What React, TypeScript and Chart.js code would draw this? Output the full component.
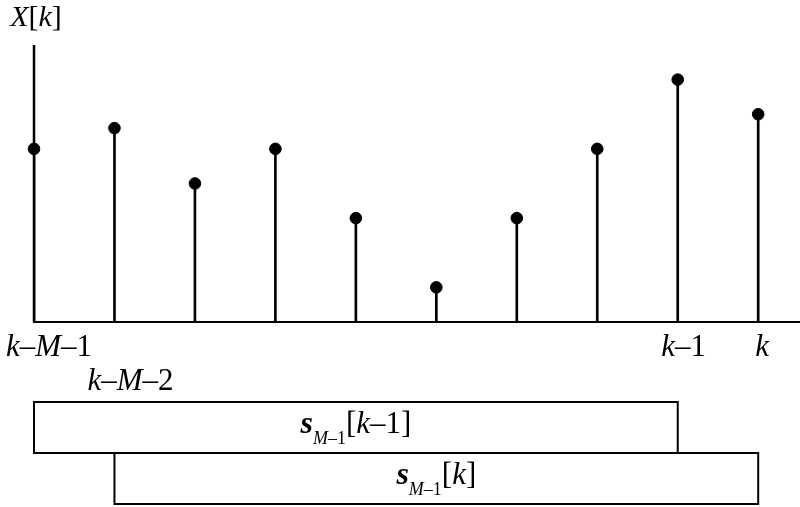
import React, { useEffect, useRef } from 'react';
import { Chart, registerables } from 'chart.js';

Chart.register(...registerables);

// ---- data ----
const sampleIndex = [0, 1, 2, 3, 4, 5, 6, 7, 8, 9];
const sampleValue = [6.25, 7, 5, 6.25, 3.75, 1.25, 3.75, 6.25, 8.75, 7.5];
const axisTop = 10;
const xMax = 9.435;
const yLabel = 'X[k]';
const tickIndex = [0, 1, 8, 9];
const tickLabels = ['k–M–1', 'k–M–2', 'k–1', 'k'];
const tickRow = [0, 1, 0, 0];
const windowStart = [0, 1];
const windowEnd = [8, 9];
const windowShift = ['k–1', 'k'];

const FONT = '"Liberation Serif", "DejaVu Serif", serif';
const TICK_NUDGE = [15, 16, 6, 4];

type Seg = { t: string; font: string; dy: number };

function mathSegs(text: string, size: number, dy = 0, bold = false): Seg[] {
  return Array.from(text).map((ch) => ({
    t: ch,
    font: (/[A-Za-z]/.test(ch) ? 'italic ' : '') + (bold ? 'bold ' : '') + size + 'px ' + FONT,
    dy,
  }));
}

function drawSegs(ctx: CanvasRenderingContext2D, segs: Seg[], cx: number, baseline: number) {
  let w = 0;
  for (const s of segs) {
    ctx.font = s.font;
    w += ctx.measureText(s.t).width;
  }
  let x = cx - w / 2;
  ctx.textBaseline = 'alphabetic';
  ctx.textAlign = 'left';
  for (const s of segs) {
    ctx.font = s.font;
    ctx.fillText(s.t, x, baseline + s.dy);
    x += ctx.measureText(s.t).width;
  }
}

const decorPlugin = {
  id: 'decor',
  afterDatasetsDraw(chart: any) {
    const ctx: CanvasRenderingContext2D = chart.ctx;
    const xs = chart.scales.x;
    const ys = chart.scales.y;
    const x0 = xs.getPixelForValue(0);
    const base = ys.getPixelForValue(0);
    const top = ys.getPixelForValue(axisTop);
    ctx.save();
    ctx.strokeStyle = '#000';
    ctx.fillStyle = '#000';
    // axes
    ctx.lineWidth = 2.5;
    ctx.beginPath();
    ctx.moveTo(x0, top);
    ctx.lineTo(x0, base);
    ctx.stroke();
    ctx.lineWidth = 2;
    ctx.beginPath();
    ctx.moveTo(x0 - 1, base);
    ctx.lineTo(chart.width, base);
    ctx.stroke();
    // y label
    drawSegs(ctx, mathSegs(yLabel, 30), x0 + 2, top - 19);
    // tick labels
    tickIndex.forEach((ix, i) => {
      const px = xs.getPixelForValue(ix) + TICK_NUDGE[i];
      const by = base + 34 + tickRow[i] * 34;
      drawSegs(ctx, mathSegs(tickLabels[i], 31), px, by);
    });
    // window boxes
    const boxTop = base + 80;
    const boxH = 51;
    ctx.lineWidth = 2;
    windowStart.forEach((s, i) => {
      const l = xs.getPixelForValue(s);
      const r = xs.getPixelForValue(windowEnd[i]);
      const t = boxTop + i * boxH;
      ctx.strokeRect(l, t, r - l, boxH);
      const segs: Seg[] = [
        ...mathSegs('s', 32, 0, true),
        ...mathSegs('M–1', 18, 11),
        ...mathSegs('[' + windowShift[i] + ']', 31),
      ];
      drawSegs(ctx, segs, (l + r) / 2, t + 31);
    });
    ctx.restore();
  },
};

export default function App() {
  const ref = useRef<HTMLCanvasElement | null>(null);
  useEffect(() => {
    document.body.style.margin = '0';
    const canvas = ref.current!;
    const pts = sampleIndex.map((x, i) => ({ x, y: sampleValue[i] }));
    const chart = new Chart(canvas, {
      type: 'bar',
      data: {
        datasets: [
          {
            type: 'bar',
            data: pts as any,
            backgroundColor: '#000',
            borderWidth: 0,
            barThickness: 2,
          } as any,
          {
            type: 'scatter',
            data: pts as any,
            backgroundColor: '#000',
            borderColor: '#000',
            pointRadius: 5.8,
            pointHoverRadius: 5.8,
            clip: false,
          } as any,
        ],
      },
      options: {
        responsive: false,
        animation: false,
        events: [],
        layout: { padding: { left: 34, right: 0, top: 45, bottom: 185 } },
        plugins: { legend: { display: false }, tooltip: { enabled: false } },
        scales: {
          x: { type: 'linear', min: 0, max: xMax, display: false, offset: false },
          y: { type: 'linear', min: 0, max: axisTop, display: false },
        },
      },
      plugins: [decorPlugin],
    });
    return () => chart.destroy();
  }, []);
  return (
    <div style={{ width: 800, height: 507 }}>
      <canvas ref={ref} width={800} height={507} />
    </div>
  );
}
